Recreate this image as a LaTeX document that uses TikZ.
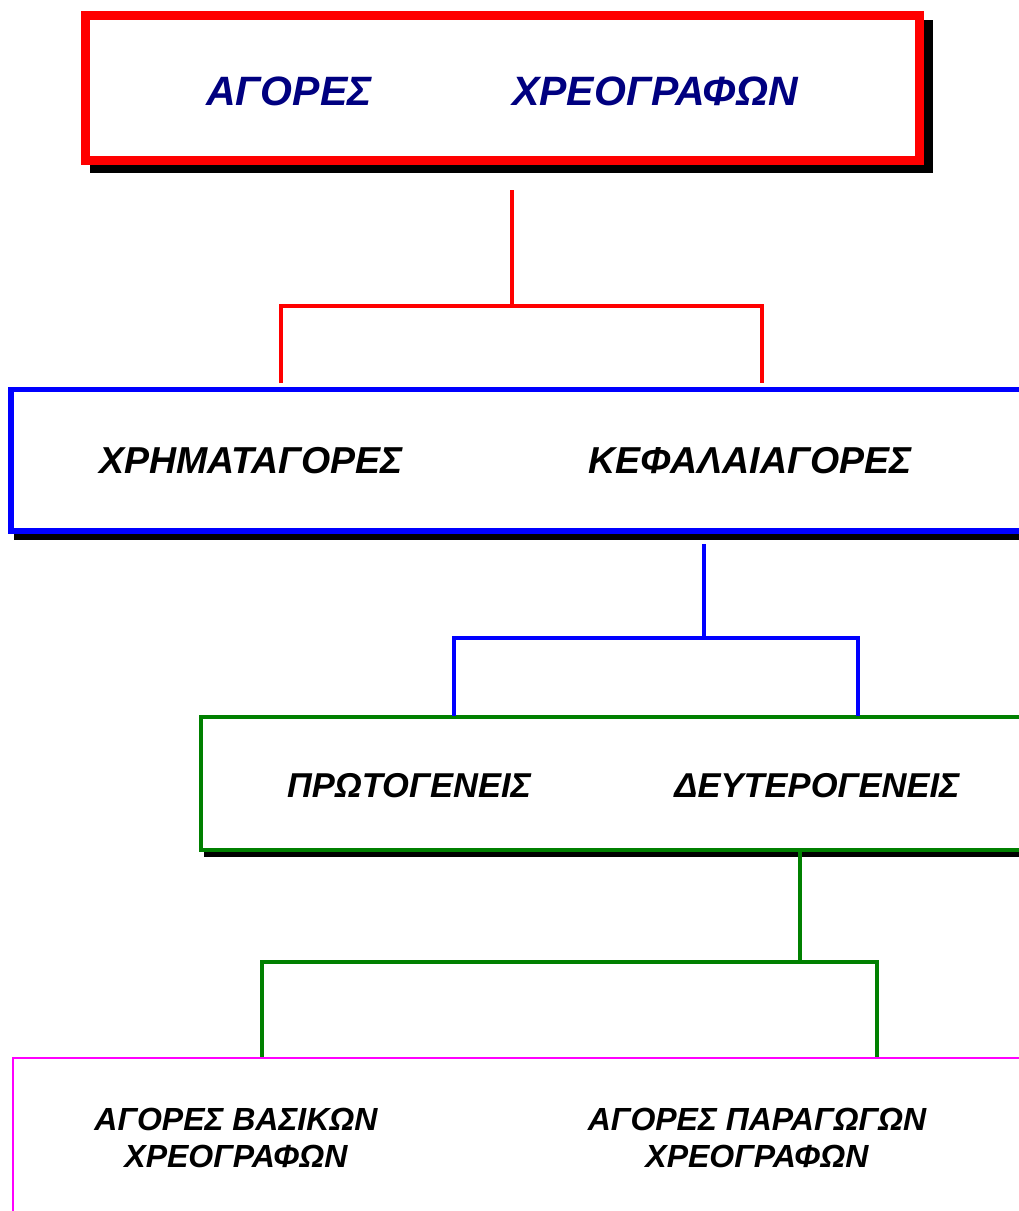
\documentclass[tikz,border=0pt]{standalone}
\usepackage{fontspec}
\setmainfont{Liberation Sans}
\usetikzlibrary{backgrounds}
\definecolor{navy}{RGB}{0,0,128}
\definecolor{darkgreen}{RGB}{0,128,0}
\definecolor{pink}{RGB}{255,0,255}

\begin{document}
\begin{tikzpicture}[x=1pt, y=-1pt]
        % Define styles for boxes, texts and links
        \tikzstyle{box} = [draw, fill=white, rectangle, inner sep=0pt]
        \tikzstyle{txt} = [inner sep=0pt, anchor=base]
        \tikzstyle{link} = [line width=4.5pt]

        \useasboundingbox (0,0) rectangle (1019,1211);
        \clip (0,0) rectangle (1019,1211);

        % Draw boxes
        \node[box, draw=red, line width=9pt, minimum width=834pt, minimum height=144.5pt] (markets) at (502.5,87.75) {};
        \node[box, draw=blue, line width=5.5pt, minimum width=1019pt, minimum height=141.5pt] (kinds) at (520.5,460.25) {};
        \node[box, draw=darkgreen, line width=4pt, minimum width=829pt, minimum height=133pt] (stages) at (615.5,783.5) {};
        \node[box, draw=pink, line width=1.7pt, minimum width=1017pt, minimum height=182pt] (securities) at (521.5,1149) {};

        % Draw shadows
        \begin{pgfonlayer}{background}
            \fill ([shift={(8.5,8.5)}]markets.south west) rectangle ([shift={(8.5,8.5)}]markets.north east);
            \fill ([shift={(6,6)}]kinds.south west) rectangle ([shift={(6,6)}]kinds.north east);
            \fill ([shift={(4.5,4.5)}]stages.south west) rectangle ([shift={(4.5,4.5)}]stages.north east);
        \end{pgfonlayer}

        % Draw texts
        \node[txt, text=navy, font=\bfseries\itshape\fontsize{41}{49}\selectfont] (agores) at (289,105) {ΑΓΟΡΕΣ};
        \node[txt, text=navy, font=\bfseries\itshape\fontsize{41}{49}\selectfont] (xreografon) at (655,105) {ΧΡΕΟΓΡΑΦΩΝ};
        \node[txt, font=\bfseries\itshape\fontsize{37.5}{45}\selectfont] (money) at (251,473) {ΧΡΗΜΑΤΑΓΟΡΕΣ};
        \node[txt, font=\bfseries\itshape\fontsize{37.5}{45}\selectfont] (capital) at (750,473) {ΚΕΦΑΛΑΙΑΓΟΡΕΣ};
        \node[txt, font=\bfseries\itshape\fontsize{34.5}{41}\selectfont] (primary) at (409,797) {ΠΡΩΤΟΓΕΝΕΙΣ};
        \node[txt, font=\bfseries\itshape\fontsize{34.5}{41}\selectfont] (secondary) at (817,797) {ΔΕΥΤΕΡΟΓΕΝΕΙΣ};
        \node[txt, anchor=center, align=center, font=\bfseries\itshape\fontsize{32}{37}\selectfont] (basic) at (236,1138) {ΑΓΟΡΕΣ ΒΑΣΙΚΩΝ\\ΧΡΕΟΓΡΑΦΩΝ};
        \node[txt, anchor=center, align=center, font=\bfseries\itshape\fontsize{32}{37}\selectfont] (derivative) at (757,1138) {ΑΓΟΡΕΣ ΠΑΡΑΓΩΓΩΝ\\ΧΡΕΟΓΡΑΦΩΝ};

        % Draw links
        \coordinate (r0) at (512,190);
        \coordinate (rj) at (512,306);
        \coordinate (r1) at (281,383);
        \coordinate (r2) at (762,383);
        \draw[link, red] (r0) -- (rj);
        \draw[link, red] (r1) |- (rj) -| (r2);

        \coordinate (b0) at (704,544);
        \coordinate (bj) at (704,638);
        \coordinate (b1) at (454,716);
        \coordinate (b2) at (858,716);
        \draw[link, blue] (b0) -- (bj);
        \draw[link, blue] (b1) |- (bj) -| (b2);

        \coordinate (g0) at (800,852);
        \coordinate (gj) at (800,962);
        \coordinate (g1) at (262,1057);
        \coordinate (g2) at (877,1057);
        \draw[link, darkgreen] (g0) -- (gj);
        \draw[link, darkgreen] (g1) |- (gj) -| (g2);
    \end{tikzpicture}
\end{document}
